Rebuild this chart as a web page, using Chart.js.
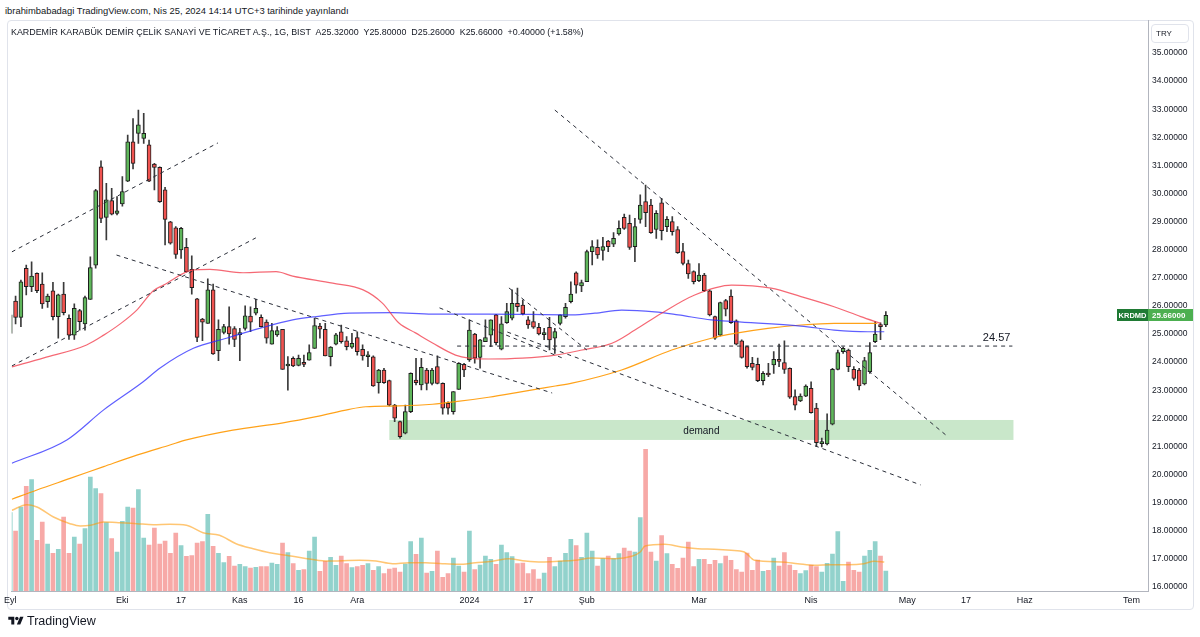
<!DOCTYPE html>
<html>
<head>
<meta charset="utf-8">
<script src="https://cdn.jsdelivr.net/npm/chart.js@4.4.1/dist/chart.umd.min.js"></script>
<style>
  html, body { margin: 0; padding: 0; background: #fff; }
  #wrap { position: relative; width: 1200px; height: 637px; overflow: hidden; font-family: "Liberation Sans", Arial, sans-serif; color: #131722; }
  #pane { position: absolute; left: 7px; top: 20px; width: 1187px; height: 590px; border: 1px solid #e0e3eb; border-radius: 4px; box-sizing: border-box; }
  #chart { position: absolute; left: 0; top: 0; }
  .pub { position: absolute; left: 5px; top: 5px; font-size: 9.4px; white-space: nowrap; }
  .title { position: absolute; left: 11px; top: 27px; font-size: 8.9px; white-space: nowrap; }
  .cur { position: absolute; left: 1151px; top: 24px; width: 38px; height: 19px; border: 1px solid #e0e3eb; border-radius: 4px; box-sizing: border-box; font-size: 8px; line-height: 17px; padding-left: 4px; }
  .brand { position: absolute; left: 8px; top: 614px; font-size: 12.5px; display: flex; align-items: center; gap: 3px; }
</style>
</head>
<body>
<div id="wrap">
  <div class="pub">ibrahimbabadagi TradingView.com, Nis 25, 2024 14:14 UTC+3 tarihinde yayınlandı</div>
  <div id="pane"></div>
  <canvas id="chart" width="1200" height="637"></canvas>
  <div class="title">KARDEMİR KARABÜK DEMİR ÇELİK SANAYİ VE TİCARET A.Ş., 1G, BIST &nbsp;A25.32000 &nbsp;Y25.80000 &nbsp;D25.26000 &nbsp;K25.66000 &nbsp;+0.40000 (+1.58%)</div>
  <div class="cur">TRY</div>
  <div class="brand">
    <svg width="16" height="12" viewBox="0 0 36 28"><path d="M14 22H7V11H0V4h14v18zM28 22h-8l7.5-18h8L28 22z" fill="#131722"/><circle cx="20" cy="8" r="4" fill="#131722"/></svg>
    <span>TradingView</span>
  </div>
</div>
<script>
// daily candles, one per trading day starting 1 Sep 2023 (index 0)
const opens = [25.02,26.17,25.59,27.34,26.68,27.16,26.78,26.15,26.54,25.62,26.42,25.56,24.96,25.83,25.36,26.23,27.45,30.95,29.15,29.75,
  29.29,29.63,30.44,31.84,32.14,31.96,31.73,31.05,30.93,30.13,28.99,28.78,27.99,28.08,27.30,26.25,25.53,25.38,26.57,24.41,
  25.06,25.26,25.19,24.98,25.20,25.64,25.74,25.59,25.42,24.64,24.97,25.17,23.86,24.13,23.88,23.97,24.07,24.49,25.28,25.17,
  24.19,24.64,25.08,24.76,24.53,24.87,24.45,24.19,24.19,23.27,23.72,23.34,22.47,21.88,21.47,22.24,23.36,23.19,23.72,23.24,
  23.84,23.24,22.53,22.24,23.03,23.92,24.08,25.00,24.17,24.73,24.96,25.68,24.46,25.40,25.56,26.09,26.03,25.50,25.44,25.24,
  24.98,25.24,24.85,25.38,25.62,26.15,27.18,26.71,26.86,27.93,28.08,27.97,28.31,28.20,28.56,29.15,28.94,28.11,29.08,29.71,
  29.59,28.72,29.67,28.82,29.00,28.72,27.93,27.51,27.22,26.90,27.10,26.54,25.62,24.96,26.19,26.35,25.47,24.76,24.55,23.96,
  23.92,23.34,23.57,23.90,24.10,23.98,23.78,22.77,22.62,22.79,23.07,22.36,21.10,21.09,21.79,23.74,24.37,24.43,23.74,23.72,
  23.22,23.66,24.73,25.30,25.32];
const highs = [26.07,26.35,26.92,27.45,27.57,27.18,27.18,26.42,26.84,26.42,26.84,25.68,26.07,25.88,26.35,27.75,30.15,31.16,30.36,30.18,
  29.89,30.60,32.08,32.67,32.97,32.85,31.90,31.07,30.95,30.22,29.01,28.82,28.80,28.40,27.78,26.27,25.56,26.96,26.78,25.50,
  25.34,25.97,25.26,25.20,26.00,25.97,26.23,25.68,25.50,25.38,25.26,25.17,24.20,24.19,24.25,24.25,24.61,25.56,25.38,25.38,
  24.55,25.02,25.32,24.91,25.02,25.08,24.61,24.37,24.22,23.74,23.78,23.36,22.50,21.90,22.47,23.62,24.13,24.13,23.78,23.78,
  24.22,23.26,22.59,22.95,23.98,23.96,25.50,25.02,24.81,25.50,25.50,25.70,25.62,26.09,26.57,26.63,26.21,25.62,25.80,25.38,
  25.20,25.59,25.20,25.68,26.09,26.86,27.21,26.92,27.99,28.32,28.35,28.44,28.33,28.61,29.03,29.27,29.23,29.12,29.95,30.30,
  29.79,29.39,29.83,29.18,29.18,28.82,28.23,27.63,27.25,27.51,27.16,26.57,25.64,26.14,26.23,26.57,25.50,24.79,24.57,24.17,
  24.14,23.66,23.96,24.37,24.64,24.76,23.80,23.01,22.87,23.19,23.30,22.53,21.30,22.16,23.78,24.43,24.53,24.46,23.84,23.78,
  24.17,24.69,25.44,25.40,25.80];
const lows = [25.00,25.36,25.26,26.39,26.51,26.47,25.91,25.95,25.50,24.85,25.68,24.81,24.81,25.14,25.14,26.23,27.34,28.96,28.35,29.24,
  29.24,29.55,30.42,30.87,31.78,31.78,30.42,30.13,29.68,28.17,28.20,27.69,27.69,27.20,26.42,24.73,24.76,25.38,24.27,24.05,
  25.00,24.64,24.55,24.05,25.14,25.08,25.68,25.24,24.67,24.64,24.91,23.74,23.00,23.84,23.86,23.84,24.07,24.49,24.85,24.22,
  23.86,24.61,24.67,24.43,24.49,24.25,24.07,23.84,23.13,22.89,23.24,22.44,21.88,21.29,21.44,22.20,23.19,23.01,23.01,23.19,
  23.22,22.15,22.15,22.15,23.03,23.48,24.02,23.96,23.78,24.73,24.55,24.61,24.43,25.38,25.50,25.80,25.68,25.20,25.20,24.97,
  24.80,24.43,24.31,25.32,25.56,26.11,26.45,26.51,26.86,27.46,27.69,27.63,27.93,28.11,28.52,28.72,28.01,27.57,28.94,28.82,
  28.58,28.40,28.35,28.64,28.52,27.87,27.46,26.98,26.78,26.86,26.51,25.64,24.81,24.93,25.64,25.38,24.61,24.14,23.78,23.72,
  23.30,23.19,23.48,23.60,23.84,23.60,22.71,22.30,22.59,22.77,22.18,20.99,20.98,21.05,21.76,23.72,24.31,23.66,23.36,23.01,
  23.19,23.60,24.69,24.80,25.26];
const closes = [25.68,25.59,26.86,26.68,27.06,26.54,26.07,26.35,25.62,26.39,25.76,24.96,25.91,25.44,26.30,27.36,30.10,29.11,29.77,29.26,
  29.38,30.07,31.84,31.07,32.44,32.14,30.44,30.93,29.71,29.08,28.23,27.83,28.76,27.22,26.65,24.88,25.42,26.57,24.29,25.17,
  25.26,25.00,24.81,25.05,25.65,25.42,25.91,25.26,24.85,25.12,25.12,23.74,23.92,23.86,24.13,23.92,24.34,25.30,25.17,24.22,
  24.53,24.97,24.73,24.55,24.67,24.37,24.22,24.23,23.15,23.72,23.27,22.47,22.00,21.35,22.24,23.60,23.27,23.81,23.24,23.72,
  23.24,22.36,22.36,22.95,23.96,23.72,25.14,24.14,24.79,24.87,25.50,24.69,25.36,25.80,26.09,25.97,25.71,25.32,25.24,25.00,
  25.05,24.79,25.09,25.68,25.95,26.42,26.74,26.83,27.93,28.11,27.81,28.11,28.11,28.40,28.76,28.76,28.08,28.82,29.59,29.32,
  28.61,29.29,28.68,29.08,28.64,27.89,27.51,27.14,26.86,27.10,26.54,25.68,24.85,26.12,25.88,25.40,24.64,24.17,23.84,23.81,
  23.34,23.60,23.54,24.10,24.02,23.74,22.75,22.47,22.79,23.15,22.20,21.13,21.13,21.58,23.74,24.34,24.49,23.84,23.42,23.15,
  24.05,24.34,25.00,25.26,25.66];
const volumes = [78.3,60,84,104.7,111.3,50.7,69,47,37.7,41.7,74,37.7,54,47,62.3,114,102.3,97.3,68.3,52.3,
  39,69.7,84,83,101.3,53,46,63,47,50,37.7,58,45.3,34.7,35.3,48,49.3,76.7,44.7,37.7,
  28.3,34.7,25,26.7,24.3,23,23.7,24.3,24.3,28,26.7,48,38.3,27.3,20.7,21.3,40,54,19.7,29.7,
  33.7,25.7,35,27.3,23.3,24.3,25.7,27.3,20.7,24.3,17.3,22,23,19,27,49.3,36.7,53,18,19.7,
  40,13.7,17.3,33,25,19,60,21.3,26,35,31.7,26.7,46,38.3,34.3,27.3,28,17.3,21.3,12,
  18,33.7,24.3,30,37.7,51.7,45.3,33.7,58,40,25,32.3,35,32.3,37.3,43,40,39,73.3,141.7,
  39,30,55.3,37.3,26.7,22.7,33,49,24.3,31.7,31.7,26.7,30.7,27.3,35,30.7,21.3,19,38,20.7,
  31,19.7,20.7,33,25,38.3,26,20.7,17.3,20.3,26,24.3,19,27.7,37,59.3,9.7,29,20.7,19,
  35,40.7,49.3,35,20];

// moving averages: [bar index, value]
const maRed = [[0.3,23.83],[6.3,24.15],[14.3,24.61],[17.5,24.96],[20.6,25.36],[23.7,25.85],[26.8,26.54],[28.7,26.74],[34.3,27.28],
  [37.4,27.30],[43.6,27.18],[49.8,27.22],[52.9,27.06],[60.4,26.81],[66.1,26.57],[69.7,26.10],[72.8,25.39],[75.9,25.04],[79.1,24.68],
  [83.4,24.25],[85.9,24.14],[89.6,24.11],[95.9,24.14],[102.1,24.25],[107.1,24.43],[112.7,24.67],[117,25.14],[122,25.74],[128.2,26.39],
  [135.1,26.74],[142.5,26.63],[148.1,26.33],[154.3,25.97],[159.3,25.62],[163,25.38]];
const maBlue = [[0.3,20.40],[10.6,21.23],[17.5,22.30],[24.9,23.30],[28,23.78],[34.3,24.49],[40.5,24.85],[46.7,25.20],[52.9,25.50],
  [57.3,25.62],[63.5,25.74],[71.6,25.76],[79.1,25.71],[89.6,25.71],[105.2,25.68],[109.5,25.74],[114.5,25.85],[120.7,25.79],
  [125.1,25.68],[131.3,25.50],[135.7,25.44],[148.1,25.28],[154.3,25.14],[160.6,25.08],[163.7,25.08]];
const maOrange = [[0.3,19.12],[5,19.45],[11.2,19.86],[17.5,20.28],[23.7,20.69],[29.9,21.05],[33,21.23],[41.7,21.58],[51.1,21.84],
  [57.3,22.06],[63.5,22.32],[66.6,22.41],[72.8,22.44],[79.1,22.50],[83.4,22.59],[89.6,22.75],[95.9,22.95],[102.1,23.15],[105.2,23.25],
  [114.5,23.72],[123.9,24.43],[131.3,24.85],[135.7,25.02],[141.9,25.20],[148.1,25.32],[154.3,25.38],[162.4,25.38]];
const volMa = [[0.3,80.7],[3.1,86.3],[5,84],[8.1,74],[11.2,67.3],[13.1,65],[15,65.7],[17.5,69],[20.6,68.3],[23.7,67.3],[26.8,66.3],
  [29.9,66.7],[33,65.7],[36.1,58.3],[39.2,55.7],[42.3,47.3],[45.5,42.3],[48.6,38.3],[51.7,35.7],[54.8,33],[59.1,30],[65.4,30.7],
  [68.5,30],[71.6,27.3],[74.7,28.3],[77.8,28.3],[80.9,27.3],[84,26.7],[87.1,28.3],[90.3,29.7],[93.4,32.3],[96.5,30],[99.6,29],
  [102.7,29.7],[105.8,30.7],[108.9,33],[113.3,32.3],[116.4,34.7],[118,39],[118.9,45],[122.6,46.7],[125.7,44],[128.8,42.3],
  [131.9,41.7],[135,40.7],[137.5,39],[139.4,30.7],[144.4,29],[147.5,27.3],[150.6,25.7],[153.7,26.3],[156.8,26.3],[159.9,27.3],
  [161.8,29.7],[163.7,29]];

// drawn trend lines: [[bar, price], [bar, price]]
const trendLines = [
  [[0.28,27.92],[38.9,31.80]],
  [[0.28,23.86],[46.0,28.42]],
  [[19.9,27.81],[101.5,22.90]],
  [[80.4,25.93],[104.0,24.10]],
  [[93.4,26.64],[108.0,24.43]],
  [[93.1,25.07],[170.5,19.63]],
  [[102.0,32.97],[175.2,21.41]]
];
const levelLine = { value: 24.57, from: 83.7, to: 187.7 };
const demandZone = { from: 71.0, to: 187.9, low: 21.23, high: 21.94 };

const tickPos = [0, 21, 32, 43, 54, 65, 86, 97, 108, 129, 150, 168, 179, 190, 210];
const tickText = ['Eyl', 'Eki', '17', 'Kas', '16', 'Ara', '2024', '17', 'Şub', 'Mar', 'Nis', 'May', '17', 'Haz', 'Tem'];
const priceTicks = [16,17,18,19,20,21,22,23,24,25,26,27,28,29,30,31,32,33,34,35];

const up = (i) => closes[i] >= opens[i];
const pts = (arr) => arr.map(p => ({ x: p[0], y: p[1] }));

const datasets = [];
datasets.push({
  type: 'bar', label: 'Hacim', yAxisID: 'yv', order: 10,
  data: volumes.map((v, i) => ({ x: i, y: v })),
  backgroundColor: (c) => up(c.dataIndex) ? 'rgba(38,166,154,0.5)' : 'rgba(239,83,80,0.5)',
  barThickness: 4, grouped: false
});
datasets.push({
  type: 'line', label: 'Hacim MA', yAxisID: 'yv', order: 9,
  data: pts(volMa), borderColor: 'rgba(255,152,0,0.55)', borderWidth: 1.5,
  pointRadius: 0, cubicInterpolationMode: 'monotone'
});
datasets.push({
  type: 'bar', label: 'fitil', yAxisID: 'y', order: 4,
  data: opens.map((o, i) => ({ x: i, y: [lows[i], highs[i]] })),
  backgroundColor: '#3a3a3a', barThickness: 1, grouped: false
});
datasets.push({
  type: 'bar', label: 'KRDMD', yAxisID: 'y', order: 3,
  data: opens.map((o, i) => ({ x: i, y: [o, closes[i]] })),
  backgroundColor: (c) => up(c.dataIndex) ? '#5fb65b' : '#f05350',
  borderColor: '#1e1e1e', borderWidth: 1, borderSkipped: false,
  barThickness: 4, minBarLength: 2, grouped: false
});
[[maRed, 'rgba(242,54,69,0.75)'], [maBlue, 'rgba(41,41,255,0.75)'], [maOrange, 'rgba(255,152,0,0.9)']].forEach(([d, col]) => {
  datasets.push({
    type: 'line', yAxisID: 'y', order: 2, data: pts(d),
    borderColor: col, borderWidth: 1.2, pointRadius: 0, cubicInterpolationMode: 'monotone'
  });
});
trendLines.forEach(t => {
  datasets.push({
    type: 'line', yAxisID: 'y', order: 1, data: pts(t),
    borderColor: '#2a2e39', borderWidth: 1, borderDash: [4, 4], pointRadius: 0
  });
});
datasets.push({
  type: 'line', yAxisID: 'y', order: 1,
  data: [{ x: levelLine.from, y: levelLine.value }, { x: levelLine.to, y: levelLine.value }],
  borderColor: '#2a2e39', borderWidth: 1, borderDash: [4, 4], pointRadius: 0
});

const overlay = {
  id: 'overlay',
  beforeDatasetsDraw(chart) {
    const { ctx, scales: { x, y } } = chart;
    const l = x.getPixelForValue(demandZone.from), r = x.getPixelForValue(demandZone.to);
    const t = y.getPixelForValue(demandZone.high), b = y.getPixelForValue(demandZone.low);
    ctx.save();
    ctx.fillStyle = 'rgba(76,175,80,0.3)';
    ctx.fillRect(l, t, r - l, b - t);
    ctx.fillStyle = '#131722';
    ctx.font = '10px "Liberation Sans"';
    ctx.textAlign = 'center';
    ctx.textBaseline = 'middle';
    ctx.fillText('demand', (l + r) / 2, (t + b) / 2 + 1);
    ctx.restore();
  },
  afterDraw(chart) {
    const { ctx, scales: { x, y }, chartArea } = chart;
    ctx.save();
    // level label
    const ly = y.getPixelForValue(levelLine.value);
    ctx.font = '11px "Liberation Sans"';
    ctx.fillStyle = '#131722';
    ctx.textAlign = 'right';
    ctx.textBaseline = 'bottom';
    ctx.fillText(levelLine.value.toFixed(2), x.getPixelForValue(levelLine.to) - 2, ly - 3);
    // last price tags
    const last = closes[closes.length - 1];
    const py = Math.round(y.getPixelForValue(last));
    ctx.fillStyle = '#1f7a34';
    ctx.fillRect(chartArea.right - 31, py - 6, 31, 12);
    ctx.fillStyle = '#4caf50';
    ctx.fillRect(chartArea.right, py - 6, 45, 12);
    ctx.fillStyle = '#fff';
    ctx.font = 'bold 7.5px "Liberation Sans"';
    ctx.textAlign = 'center';
    ctx.textBaseline = 'middle';
    ctx.fillText('KRDMD', chartArea.right - 15.5, py + 0.5);
    ctx.font = 'bold 8px "Liberation Sans"';
    ctx.textAlign = 'left';
    ctx.fillText(last.toFixed(5), chartArea.right + 4, py + 0.5);
    ctx.restore();
  }
};

new Chart(document.getElementById('chart'), {
  type: 'bar',
  data: { datasets },
  plugins: [overlay],
  options: {
    responsive: false,
    animation: false,
    layout: { padding: { left: 8, top: 20, right: 7, bottom: 29 } },
    plugins: { legend: { display: false }, tooltip: { enabled: false } },
    scales: {
      x: {
        type: 'linear', min: 0.28, max: 213.1, offset: false,
        grid: { display: false, drawTicks: false },
        border: { display: true, color: '#b2b5be' },
        afterBuildTicks: (s) => { s.ticks = tickPos.map(v => ({ value: v })); },
        afterFit: (s) => { s.height = 17; },
        ticks: {
          autoSkip: false, maxRotation: 0, padding: 4, color: '#131722',
          font: { size: 9, family: 'Liberation Sans' },
          callback: (v) => tickText[tickPos.indexOf(v)] ?? ''
        }
      },
      y: {
        type: 'linear', position: 'right', min: 15.854, max: 36.174,
        grid: { display: false, drawTicks: false },
        border: { display: true, color: '#b2b5be' },
        afterBuildTicks: (s) => { s.ticks = priceTicks.map(v => ({ value: v })); },
        afterFit: (s) => { s.width = 45; },
        ticks: {
          padding: 4, color: '#131722',
          font: { size: 8.5, family: 'Liberation Sans' },
          callback: (v) => Number(v).toFixed(5)
        }
      },
      yv: { type: 'linear', display: false, min: 0, max: 571 }
    }
  }
});
</script>
</body>
</html>
